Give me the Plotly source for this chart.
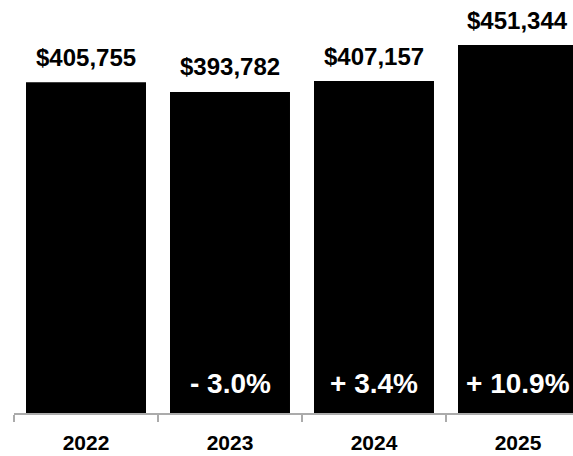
import plotly.graph_objects as go

years = ["2022", "2023", "2024", "2025"]
revenue = [405755, 393782, 407157, 451344]
value_labels = ["$405,755", "$393,782", "$407,157", "$451,344"]
change_labels = ["", "- 3.0%", "+ 3.4%", "+ 10.9%"]

FONT = "Liberation Sans, Arial, Helvetica, sans-serif"

fig = go.Figure()
fig.add_trace(go.Bar(
    x=years, y=revenue,
    marker=dict(color="#000000", line=dict(width=0)),
    hoverinfo="skip",
))

annotations = []
for i, (v, lab) in enumerate(zip(revenue, value_labels)):
    annotations.append(dict(
        x=i, y=v, xref="x", yref="y", text="<b>" + lab + "</b>", showarrow=False,
        yanchor="middle", yshift=25,
        font=dict(family=FONT, size=24, color="#000000"),
    ))
for i, lab in enumerate(change_labels):
    if lab:
        annotations.append(dict(
            x=i, y=0, xref="x", yref="y", text="<b>" + lab + "</b>", showarrow=False,
            yanchor="middle", yshift=30,
            font=dict(family=FONT, size=28, color="#ffffff"),
        ))

fig.update_layout(
    width=573, height=456,
    margin=dict(l=14, r=0, t=0, b=43),
    paper_bgcolor="#ffffff", plot_bgcolor="#ffffff",
    bargap=0.1667,
    showlegend=False,
    annotations=annotations,
    xaxis=dict(
        type="category",
        range=[-0.5, 3.382],
        showline=True, linecolor="#ababab", linewidth=2,
        ticks="outside", tickson="boundaries", ticklen=7, tickwidth=2, tickcolor="#ababab",
        showgrid=False, zeroline=False,
        tickfont=dict(family=FONT, size=21, color="#000000", weight="bold"),
        ticklabelstandoff=10,
    ),
    yaxis=dict(
        range=[0, 506540],
        visible=False, showgrid=False, zeroline=False,
    ),
)

fig.write_html("out.html")
